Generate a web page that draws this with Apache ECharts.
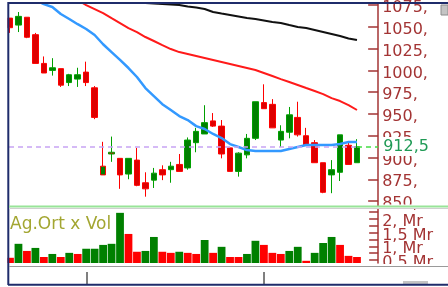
<!DOCTYPE html>
<html lang="tr">
<head>
<meta charset="UTF-8">
<title>Ag.Ort x Vol</title>
<script src="https://cdn.jsdelivr.net/npm/echarts@6/dist/echarts.min.js"></script>
<style>
    html, body { margin: 0; padding: 0; background: #fff; }
    #main { width: 448px; height: 287px; }
</style>
</head>
<body>
<div id="main"></div>
<script>
// günlük mumlar (42 gün)
var opens  = [1060, 1052, 1061, 1041, 1008, 1000, 1002, 986, 990, 998, 980, 880, 906, 899, 881, 897, 871, 874, 886, 886, 892, 888, 917, 927, 942, 936, 911, 884, 903, 922, 963, 961, 920, 929, 946, 925, 917, 894, 880, 883, 914, 894];
var closes = [1049, 1062, 1038, 1008, 997, 1003, 983, 995, 995, 986, 946, 890, 904, 880, 899, 868, 864, 882, 880, 890, 884, 920, 930, 940, 936, 904, 884, 905, 922, 964, 956, 934, 930, 949, 926, 914, 894, 860, 886, 926, 892, 912.5];
var lows   = [1043, 1044, 1037, 1008, 997, 994, 981, 982, 981, 982, 944, 880, 895, 864, 875, 867, 855, 865, 874, 871, 884, 886, 906, 927, 935, 899, 884, 878, 899, 920, 956, 934, 912, 922, 924, 914, 894, 859, 859, 873, 892, 894];
var highs  = [1060, 1067, 1061, 1043, 1016, 1014, 1002, 996, 1003, 1010, 982, 918, 924, 899, 899, 911, 883, 888, 891, 895, 904, 923, 934, 960, 951, 943, 911, 906, 927, 964, 984, 967, 937, 958, 964, 934, 920, 894, 897, 926, 918, 921];

// hareketli ortalamalar
var maShort = [1094.5, 1090, 1085, 1080.7, 1076, 1072.7, 1064.7, 1059, 1053, 1047.5, 1040.6, 1030, 1021, 1012, 1002.7, 992.4, 979.7, 970.5, 961.2, 954.5, 947.6, 943, 936, 932.7, 927, 922.3, 915.4, 912, 908.5, 907.4, 907.4, 907.4, 907.4, 909.7, 912, 914.3, 914.3, 914.3, 914.3, 915.4, 917.7, 917.7];
var maMid   = [1123, 1118.6, 1113, 1108, 1102.6, 1096.8, 1091, 1085.3, 1080.7, 1075, 1070.4, 1065.8, 1060, 1054.3, 1048.6, 1044, 1038.3, 1033.7, 1029, 1024.5, 1021, 1018.8, 1016.5, 1014.2, 1011.9, 1009.6, 1007.3, 1005, 1002.7, 1000.4, 997, 993.5, 990, 986.6, 983.2, 979.7, 976.3, 972.8, 968.2, 964.8, 960.2, 954.5];
var maLong  = [1094.5, 1093.4, 1092.3, 1091.1, 1090, 1088.8, 1087.6, 1086.5, 1085.3, 1084.2, 1083, 1081.9, 1080.7, 1079.6, 1078.5, 1077.9, 1077.3, 1076.7, 1076.2, 1075.6, 1075, 1073.3, 1072.1, 1070.4, 1067, 1065.2, 1063.5, 1061.8, 1060.1, 1058.9, 1057.2, 1055.5, 1054.4, 1052, 1049.8, 1048.6, 1046.3, 1044, 1041.7, 1039.4, 1036.6, 1034.8];

// hacim (Mr) ve yönü (1 artış, 0 düşüş)
var volumes = [0.58, 1.09, 0.83, 0.94, 0.61, 0.72, 0.61, 0.76, 0.72, 0.91, 0.91, 1.05, 1.09, 2.22, 1.45, 0.80, 0.83, 1.34, 0.80, 0.76, 0.80, 0.76, 0.72, 1.23, 0.76, 0.98, 0.61, 0.61, 0.72, 1.20, 1.05, 0.76, 0.72, 0.83, 0.98, 0.47, 0.76, 1.12, 1.34, 1.05, 0.65, 0.61];
var volUp   = [0, 1, 0, 1, 0, 1, 0, 1, 0, 1, 1, 1, 1, 1, 0, 0, 1, 1, 0, 0, 1, 0, 0, 1, 0, 1, 0, 0, 1, 1, 0, 0, 0, 1, 1, 0, 1, 1, 1, 0, 0, 0];

var priceTicks = [850, 875, 900, 925, 950, 975, 1000, 1025, 1050, 1075];
var volTicks = [0.5, 1, 1.5, 2];
var volTickMarks = [0.5, 0.75, 1, 1.25, 1.5, 1.75, 2, 2.25];

var days = opens.map(function (v, i) { return String(i + 1); });
var lastClose = closes[closes.length - 1];

var RED = '#ff0000', GREEN = '#008000';
var AXIS = '#a33434';
var FONT = 'DejaVu Sans';
var NAVY = '#1f2c6b';

// mumlardan ikisinin fitili ters renkte
var wickFlip = { 11: RED, 12: '#00a000' };
var candles = opens.map(function (o, i) {
    var item = { value: [o, closes[i], lows[i], highs[i]] };
    if (wickFlip[i]) item.itemStyle = { borderColor: wickFlip[i], borderColor0: wickFlip[i] };
    return item;
});
var volData = volumes.map(function (v, i) {
    return { value: v, itemStyle: { color: volUp[i] ? GREEN : RED } };
});

function fmtNum(v) {
    var s = String(v).replace('.', ',');
    return s.indexOf(',') < 0 ? s + ',' : s;
}

var bandW = 8.463;
var gridLeft = 10 - bandW / 2;
var gridW = bandW * 44;

var myChart = echarts.init(document.getElementById('main'));

var frame = [
    // sol kenar maskesi ve çerçeve
    { type: 'rect', z: 100, shape: { x: 0, y: 0, width: 7.5, height: 287 }, style: { fill: '#fff' } },
    { type: 'rect', z: 100, shape: { x: 379, y: 204.5, width: 69, height: 4.5 }, style: { fill: '#fff' } },
    { type: 'line', z: 101, shape: { x1: 8, y1: 3, x2: 448, y2: 3 }, style: { stroke: NAVY, lineWidth: 2 } },
    { type: 'line', z: 101, shape: { x1: 8.3, y1: 2, x2: 8.3, y2: 285 }, style: { stroke: NAVY, lineWidth: 2 } },
    { type: 'rect', z: 101, shape: { x: 441, y: 5, width: 7, height: 10 }, style: { fill: '#c4c4c4', stroke: '#8c8c8c', lineWidth: 1 } },
    { type: 'line', z: 101, shape: { x1: 9, y1: 206.5, x2: 448, y2: 206.5 }, style: { stroke: '#98e498', lineWidth: 2 } },
    { type: 'line', z: 101, shape: { x1: 9, y1: 208.5, x2: 448, y2: 208.5 }, style: { stroke: '#cfcfcf', lineWidth: 1 } },
    {
        type: 'text', z: 102, left: 10, top: 216,
        style: { text: 'Ag.Ort x Vol', fill: '#a3a631', font: '17px "DejaVu Sans"' }
    }
];

var option = {
    animation: false,
    grid: [
        { left: gridLeft, top: 4, width: gridW, height: 202 },
        { left: gridLeft, top: 209, width: gridW, height: 54 }
    ],
    xAxis: [
        { type: 'category', gridIndex: 0, data: days, max: 43, show: false },
        { type: 'category', gridIndex: 1, data: days, max: 43, show: false }
    ],
    yAxis: [
        {
            type: 'value', gridIndex: 0, position: 'right',
            min: 844.3, max: 1076.2,
            splitLine: { show: false },
            axisLine: { show: true, lineStyle: { color: AXIS, width: 1.5 } },
            axisTick: { show: true, inside: true, length: 10, customValues: priceTicks, lineStyle: { color: AXIS, width: 1.5 } },
            axisLabel: {
                customValues: priceTicks, color: AXIS, fontFamily: FONT, fontSize: 16,
                margin: 4, verticalAlign: 'top', lineHeight: 6,
                showMinLabel: true, showMaxLabel: true,
                formatter: function (v) { return fmtNum(v); }
            }
        },
        {
            type: 'value', gridIndex: 1, position: 'right',
            min: 0.39, max: 2.36,
            splitLine: { show: false },
            axisLine: { show: true, lineStyle: { color: AXIS, width: 1.5 } },
            axisTick: { show: true, inside: true, length: 9, customValues: volTickMarks, lineStyle: { color: AXIS, width: 1.5 } },
            axisLabel: { show: false }
        }
    ],
    series: [
        {
            type: 'candlestick', xAxisIndex: 0, yAxisIndex: 0,
            barWidth: 6,
            data: candles,
            itemStyle: { color: GREEN, color0: '#dd0000', borderColor: '#00a000', borderColor0: RED, borderWidth: 1 },
            markLine: {
                silent: true, symbol: 'none', animation: false,
                data: [
                    [
                        { xAxis: 0, yAxis: lastClose, x: 9, lineStyle: { color: '#c8a4f4', type: [5, 4], width: 1.5 }, label: { show: false } },
                        { xAxis: 41, yAxis: lastClose }
                    ],
                    [
                        {
                            xAxis: 41, yAxis: lastClose,
                            lineStyle: { color: '#44dd44', type: [5, 4], width: 1.5 },
                            label: {
                                show: true, position: 'end', distance: 3,
                                formatter: fmtNum(lastClose),
                                color: '#1f9a55', fontFamily: FONT, fontSize: 16,
                                backgroundColor: '#fff', padding: [2, 2, 1, 2]
                            }
                        },
                        { xAxis: 43, yAxis: lastClose, x: gridLeft + gridW }
                    ]
                ]
            }
        },
        { type: 'line', xAxisIndex: 0, yAxisIndex: 0, data: maLong, showSymbol: false, lineStyle: { color: '#111', width: 2 } },
        { type: 'line', xAxisIndex: 0, yAxisIndex: 0, data: maMid, showSymbol: false, lineStyle: { color: '#ff1a1a', width: 2 } },
        { type: 'line', xAxisIndex: 0, yAxisIndex: 0, data: maShort, showSymbol: false, lineStyle: { color: '#3399ff', width: 2.5 } },
        {
            type: 'bar', xAxisIndex: 1, yAxisIndex: 1,
            barCategoryGap: '8%',
            data: volData
        }
    ],
    graphic: frame
};

myChart.setOption(option);

// hacim ekseni etiketleri birbirine biniyor; eksenin ölçeğinden konumlanıp metin olarak çiziliyor
var volLabels = volTicks.map(function (v) {
    var y = myChart.convertToPixel({ yAxisIndex: 1 }, v);
    return {
        type: 'text', z: 99, x: gridLeft + gridW + 4, y: y + 3,
        style: { text: fmtNum(v) + ' Mr', fill: AXIS, font: '16px "DejaVu Sans"', verticalAlign: 'middle' }
    };
});
var bottom = [
    { type: 'rect', z: 100, shape: { x: 379, y: 264, width: 69, height: 21 }, style: { fill: '#fff' } },
    { type: 'line', z: 101, shape: { x1: 9, y1: 266.5, x2: 448, y2: 266.5 }, style: { stroke: '#9a9a9a', lineWidth: 1 } },
    { type: 'line', z: 101, shape: { x1: 87, y1: 272, x2: 87, y2: 284 }, style: { stroke: '#000', lineWidth: 1 } },
    { type: 'line', z: 101, shape: { x1: 264, y1: 272, x2: 264, y2: 284 }, style: { stroke: '#000', lineWidth: 1 } },
    { type: 'rect', z: 101, shape: { x: 403, y: 281, width: 25, height: 3 }, style: { fill: '#c4c4c4' } },
    { type: 'line', z: 101, shape: { x1: 8, y1: 284.8, x2: 448, y2: 284.8 }, style: { stroke: NAVY, lineWidth: 2 } }
];
myChart.setOption({ graphic: frame.concat(volLabels, bottom) });
</script>
</body>
</html>
